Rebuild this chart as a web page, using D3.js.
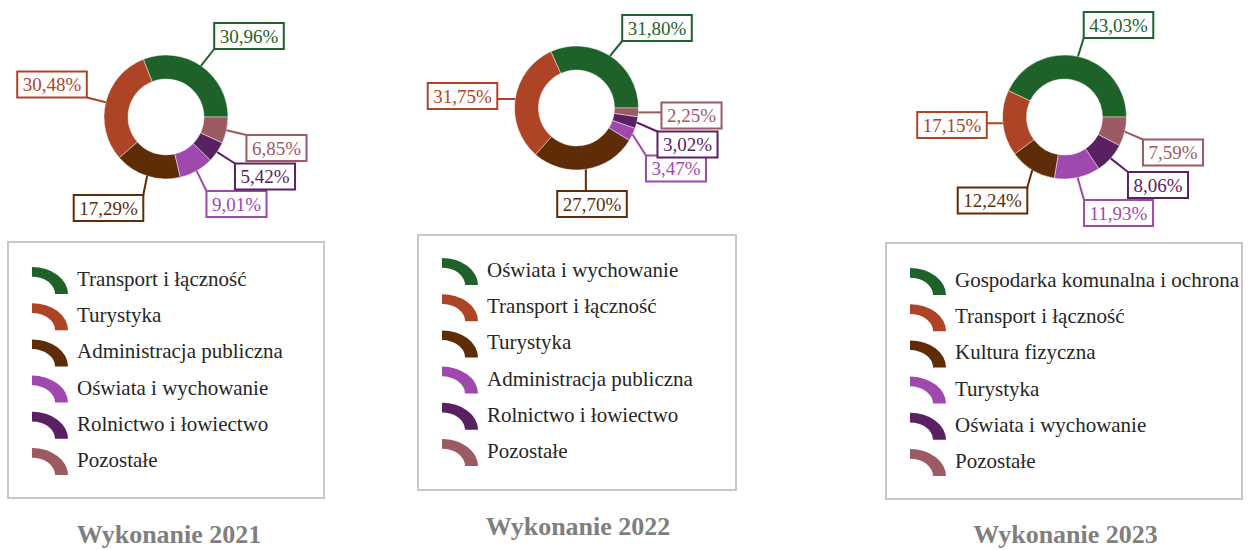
<!DOCTYPE html>
<html>
<head>
<meta charset="utf-8">
<script src="https://cdn.jsdelivr.net/npm/d3@7"></script>
<style>
  html, body { margin: 0; padding: 0; background: #ffffff; }
  svg { display: block; }
</style>
</head>
<body>
<svg id="chart" width="1257" height="550"></svg>
<script>
// Budget structure by section, share of total spending (%)
const categories2021 = ["Transport i łączność", "Turystyka", "Administracja publiczna", "Oświata i wychowanie", "Rolnictwo i łowiectwo", "Pozostałe"];
const values2021 = [30.96, 30.48, 17.29, 9.01, 5.42, 6.85];

const categories2022 = ["Oświata i wychowanie", "Transport i łączność", "Turystyka", "Administracja publiczna", "Rolnictwo i łowiectwo", "Pozostałe"];
const values2022 = [31.80, 31.75, 27.70, 3.47, 3.02, 2.25];

const categories2023 = ["Gospodarka komunalna i ochrona", "Transport i łączność", "Kultura fizyczna", "Turystyka", "Oświata i wychowanie", "Pozostałe"];
const values2023 = [43.03, 17.15, 12.24, 11.93, 8.06, 7.59];

const titles = ["Wykonanie 2021", "Wykonanie 2022", "Wykonanie 2023"];

// Slice colours, in legend order
const palette = ["#1e6229", "#ad4426", "#5e2d08", "#9f48ad", "#5a2162", "#9c5a63"];

// Panel layout: donut centre, label box offsets (relative to centre), legend box, title
const panels = [
  {
    cats: categories2021, vals: values2021, title: titles[0],
    cx: 166, cy: 117,
    labelPos: [[83, -81], [-114, -32.5], [-57.5, 91], [70.5, 87], [99, 59.5], [110.5, 31]],
    legend: { x: 8, y: 242, w: 316, h: 256 }, legendRow0: 286,
    titleX: 169, titleY: 543
  },
  {
    cats: categories2022, vals: values2022, title: titles[1],
    cx: 576.5, cy: 108,
    labelPos: [[80.5, -80], [-114, -12], [15.5, 96], [99.5, 60.5], [111, 36.5], [115, 7.5]],
    legend: { x: 418, y: 235, w: 318, h: 255 }, legendRow0: 277,
    titleX: 578, titleY: 535
  },
  {
    cats: categories2023, vals: values2023, title: titles[2],
    cx: 1064.5, cy: 117,
    labelPos: [[54, -92], [-112.5, 8], [-72, 83.5], [54, 96], [93.5, 68], [108.5, 35.5]],
    legend: { x: 886, y: 243, w: 356, h: 256 }, legendRow0: 287,
    titleX: 1065.5, titleY: 543
  }
];

const outerR = 62, innerR = 38;
const svg = d3.select("#chart");

const pie = d3.pie()
  .sort(null)
  .value(d => d)
  .startAngle(Math.PI / 2)
  .endAngle(Math.PI / 2 - 2 * Math.PI);

const arc = d3.arc().innerRadius(innerR).outerRadius(outerR);
const iconArc = d3.arc().innerRadius(0.64).outerRadius(1).startAngle(0).endAngle(Math.PI / 2);

const fmt = v => v.toFixed(2).replace(".", ",") + "%";

panels.forEach(p => {
  const color = d3.scaleOrdinal().domain(p.cats).range(palette);
  const g = svg.append("g").attr("transform", `translate(${p.cx},${p.cy})`);
  const arcs = pie(p.vals);

  // Donut slices
  g.selectAll("path.slice")
    .data(arcs)
    .join("path")
    .attr("class", "slice")
    .attr("d", arc)
    .attr("fill", (d, i) => color(p.cats[i]))
    .attr("stroke", "rgba(255,255,255,0.55)")
    .attr("stroke-width", 0.8);

  // Value labels with leader lines
  const lab = g.selectAll("g.lab")
    .data(arcs)
    .join("g")
    .attr("class", "lab");

  lab.each(function (d, i) {
    const el = d3.select(this);
    const c = color(p.cats[i]);
    const [lx, ly] = p.labelPos[i];
    const txt = el.append("text")
      .attr("x", lx)
      .attr("y", ly + 6.5)
      .attr("text-anchor", "middle")
      .attr("font-family", "'Liberation Serif', 'Times New Roman', serif")
      .attr("font-size", 19)
      .attr("fill", c)
      .text(fmt(d.value));
    const tw = txt.node().getComputedTextLength();
    const bw = tw + 11, bh = 26;
    const bx = lx - bw / 2, by = ly - bh / 2;

    const mid = (d.startAngle + d.endAngle) / 2;
    const px = outerR * Math.sin(mid), py = -outerR * Math.cos(mid);
    const qx = Math.max(bx, Math.min(bx + bw, px));
    const qy = Math.max(by, Math.min(by + bh, py));

    el.insert("line", "text")
      .attr("x1", px).attr("y1", py)
      .attr("x2", qx).attr("y2", qy)
      .attr("stroke", c)
      .attr("stroke-width", 2);

    el.insert("rect", "text")
      .attr("x", bx).attr("y", by)
      .attr("width", bw).attr("height", bh)
      .attr("fill", "#ffffff")
      .attr("stroke", c)
      .attr("stroke-width", 2);
  });

  // Legend box
  svg.append("rect")
    .attr("x", p.legend.x).attr("y", p.legend.y)
    .attr("width", p.legend.w).attr("height", p.legend.h)
    .attr("fill", "none")
    .attr("stroke", "#c8c8c8")
    .attr("stroke-width", 2);

  const rowY = d3.scaleLinear().domain([0, 5]).range([p.legendRow0, p.legendRow0 + 181]);
  const leg = svg.append("g")
    .selectAll("g")
    .data(p.cats)
    .join("g")
    .attr("transform", (d, i) => `translate(${p.legend.x + 24},${rowY(i)})`);

  leg.append("path")
    .attr("d", iconArc())
    .attr("transform", "translate(0,8) scale(36,27)")
    .attr("fill", d => color(d));

  leg.append("text")
    .attr("x", 45)
    .attr("y", 0)
    .attr("font-family", "'Liberation Serif', 'Times New Roman', serif")
    .attr("font-size", 21)
    .attr("fill", "#262626")
    .text(d => d);

  // Panel title
  svg.append("text")
    .attr("x", p.titleX)
    .attr("y", p.titleY)
    .attr("text-anchor", "middle")
    .attr("font-family", "'Liberation Serif', 'Times New Roman', serif")
    .attr("font-weight", "bold")
    .attr("font-size", 26)
    .attr("fill", "#7f7f7f")
    .text(p.title);
});
</script>
</body>
</html>
